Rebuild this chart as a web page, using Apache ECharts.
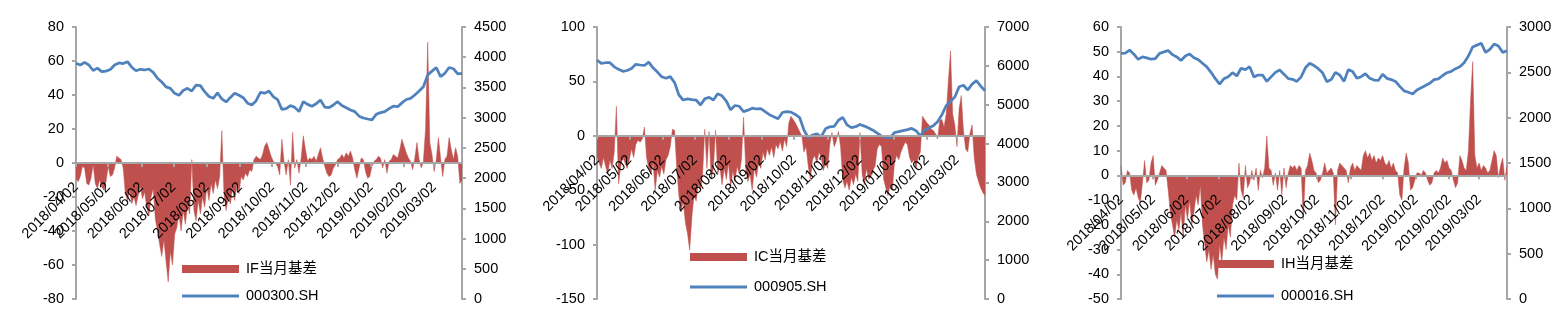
<!DOCTYPE html>
<html><head><meta charset="utf-8">
<script src="https://cdn.jsdelivr.net/npm/echarts@6/dist/echarts.min.js"></script>
<style>html,body{margin:0;padding:0;background:#fff}#c{width:1557px;height:321px}</style>
</head><body><div id="c"></div>
<script>
// ---- data (calendar days from 2018/04/02; basis sampled every 2 days, index every 4 days) ----
const startYear = 2018, startMonth = 4, startDay = 2;
const dayCount = 361;
const basisStep = 2;
const indexStep = 4;

const ifBasis = [
 -9,-11,-8,-2,-3,-12,-13,-9,-1,-12,
 -15,-10,-14,-16,-11,-2,-8,-7,-3,4,
 3,2,-3,-18,-22,-16,-24,-20,-25,-19,
 -14,-21,-17,-26,-31,-20,-15,-33,-40,-48,
 -55,-45,-58,-70,-52,-60,-42,-38,-30,-40,
 -28,-36,-25,-30,2,-28,-34,-22,-30,-20,
 -26,-14,-22,-12,-18,-10,-15,-8,19,-18,
 -28,-20,-24,-15,-22,-12,-18,-8,-10,-6,
 -8,-4,-5,2,4,3,2,5,10,12,
 8,4,1,0,-2,-7,14,1,-7,2,
 -13,18,-3,2,-6,3,16,8,1,3,
 2,4,1,5,9,3,-2,-6,-8,-7,
 -3,-1,2,3,5,3,6,4,7,3,
 -4,-9,-3,3,2,-5,-9,-8,-2,1,
 2,4,3,-3,2,-6,1,2,5,4,
 3,8,14,10,6,3,1,-4,3,12,
 2,-3,1,20,71,12,5,-5,2,15,
 3,-8,2,4,15,8,2,9,4,-12,
 -10
];
const ifIndex = [
 3899,3871,3915,3871,3780,3820,3761,3770,3798,3871,
 3905,3895,3927,3835,3775,3800,3789,3805,3750,3651,
 3590,3510,3485,3403,3370,3450,3485,3440,3540,3530,
 3430,3350,3320,3410,3310,3260,3335,3403,3370,3330,
 3240,3210,3280,3420,3405,3440,3348,3300,3138,3150,
 3200,3170,3100,3265,3220,3190,3230,3292,3175,3165,
 3210,3265,3200,3165,3127,3100,3025,2995,2978,2965,
 3055,3083,3100,3150,3190,3182,3245,3300,3320,3375,
 3440,3510,3706,3770,3830,3680,3734,3830,3810,3723,
 3734
];
const icBasis = [
 -18,-25,-30,-20,-28,-35,-22,-30,-15,27,
 -44,-28,-20,-25,-30,-22,-12,-20,-8,-4,
 -6,-3,8,-20,-30,-35,-25,-50,-32,-38,
 -28,-35,-22,-18,-10,6,5,-30,-55,-70,
 -60,-80,-90,-105,-75,-55,-60,-45,-50,-35,
 6,-30,4,-40,-30,5,-35,-28,-45,-30,
 -40,-25,-48,-32,-42,-28,-35,-22,17,-30,
 -42,-35,-50,-30,-38,-25,-30,-15,-22,-12,
 -18,-10,-20,-8,-12,-5,-14,-3,-10,12,
 18,15,12,8,4,0,-15,-10,-28,-40,
 -22,-18,-25,-15,-20,-32,-25,-30,-8,3,
 -10,-5,4,-10,-40,-48,-42,-50,-38,-45,
 -35,-42,3,-35,-45,-30,-40,-38,-32,-28,
 -12,-8,-10,-40,-48,-55,-45,-50,-25,-18,
 -22,-15,-10,-6,-8,-20,-25,-22,-30,-20,
 -15,18,15,12,10,6,5,2,-3,14,
 15,8,20,50,78,20,10,-10,25,37,
 5,-12,-15,2,10,-20,-35,-42,-48,-52,
 -55
];
const icIndex = [
 6151,6065,6080,6080,5975,5910,5860,5880,5930,6040,
 6022,6010,6095,5950,5840,5720,5680,5722,5570,5250,
 5121,5150,5130,5121,4993,5150,5190,5121,5280,5230,
 5090,4870,4980,4960,4821,4860,4910,4890,4900,4820,
 4745,4690,4640,4800,4821,4810,4750,4670,4349,4150,
 4221,4250,4170,4380,4430,4440,4600,4675,4480,4410,
 4435,4490,4450,4400,4345,4270,4190,4161,4150,4280,
 4306,4335,4360,4390,4332,4200,4349,4400,4460,4564,
 4740,4980,5078,5200,5464,5500,5378,5530,5620,5480,
 5360
];
const ihBasis = [
 4,-4,-3,2,1,-6,-8,-5,-9,-11,
 -3,6,-3,-2,5,8,-4,-2,1,4,
 3,2,-6,-15,-20,-25,-18,-22,-15,-25,
 -12,-18,-10,-20,-15,-8,-12,-4,-20,-28,
 -35,-30,-38,-32,-40,-42,-28,-35,-25,-30,
 -20,-25,-12,-8,-10,5,-6,-9,4,-5,
 -3,2,-2,3,-6,2,-1,3,16,3,
 2,-4,1,-6,2,-8,3,-5,1,4,
 3,4,2,4,3,-18,2,4,9,6,
 2,1,-3,-2,1,5,1,2,3,1,
 -20,2,5,4,3,2,-3,3,5,2,
 4,3,2,8,10,7,9,6,8,5,
 7,6,8,5,4,6,3,5,2,1,
 -8,-10,3,9,5,-6,-5,-2,1,1,
 0,2,1,-2,-4,-3,1,2,1,3,
 7,5,6,3,2,-2,-5,-3,8,6,
 3,2,10,30,46,8,3,5,2,4,
 3,1,2,6,10,8,-1,4,7,-2,
 4
];
const ihIndex = [
 2709,2712,2746,2700,2643,2670,2660,2645,2650,2709,
 2725,2740,2695,2670,2630,2680,2702,2660,2640,2600,
 2560,2500,2430,2371,2430,2452,2496,2460,2545,2530,
 2562,2450,2470,2470,2400,2450,2500,2526,2480,2430,
 2423,2400,2450,2550,2600,2575,2540,2495,2397,2420,
 2500,2470,2400,2530,2510,2434,2452,2485,2434,2415,
 2410,2480,2434,2420,2400,2345,2295,2280,2262,2305,
 2330,2355,2379,2420,2428,2465,2496,2510,2540,2562,
 2605,2680,2780,2800,2820,2720,2753,2812,2790,2720,
 2739
];
const basisNames = ['IF当月基差', 'IC当月基差', 'IH当月基差'];
const indexNames = ['000300.SH', '000905.SH', '000016.SH'];
const leftRanges  = [[-80, 80, 20], [-150, 100, 50], [-50, 60, 10]];
const rightRanges = [[0, 4500, 500], [0, 7000, 1000], [0, 3000, 500]];

// ---- categories: every calendar day ----
const categories = [];
const t0 = Date.UTC(startYear, startMonth - 1, startDay);
for (let i = 0; i < dayCount; i++) {
  const d = new Date(t0 + i * 86400000);
  categories.push(d.getUTCFullYear() + '/' + String(d.getUTCMonth() + 1).padStart(2, '0') + '/' + String(d.getUTCDate()).padStart(2, '0'));
}
const monthTick = (idx, val) => /\/02$/.test(val);

// ---- layout / style ----
const FONT = "'Liberation Sans', 'Noto Sans CJK SC', sans-serif";
const AXIS_GRAY = '#a6a6a6';
const RED = '#C0504D', BLUE = '#4F81BD';
const grids = [
  {left: 76, top: 27, width: 386, height: 272},
  {left: 597, top: 27, width: 388, height: 272},
  {left: 1121, top: 27, width: 386, height: 272}
].map(g => Object.assign(g, {containLabel: false, outerBoundsMode: 'none'}));
const legendPos = [
  {left: 182, top1: 261, top2: 288},
  {left: 690, top1: 249, top2: 279},
  {left: 1217, top1: 256, top2: 288}
];
const basisSets = [ifBasis, icBasis, ihBasis];
const indexSets = [ifIndex, icIndex, ihIndex];

const xAxes = [], yAxes = [], series = [], legends = [];
function yAxis(gi, pos, r) {
  return {
    type: 'value', gridIndex: gi, position: pos, min: r[0], max: r[1], interval: r[2],
    splitLine: {show: false},
    axisLine: {show: true, onZero: false, lineStyle: {color: AXIS_GRAY, width: 2}},
    axisTick: {show: true, length: 4, lineStyle: {color: AXIS_GRAY, width: 2}},
    axisLabel: {color: '#000', fontSize: 14.5, fontFamily: FONT, margin: 12, formatter: v => String(v)}
  };
}
for (let gi = 0; gi < 3; gi++) {
  const lr = leftRanges[gi];
  // x axis crosses the left value axis at 0: shift it up from the grid bottom by the zero's pixel position
  const zeroOffset = -grids[gi].height * (0 - lr[0]) / (lr[1] - lr[0]);
  xAxes.push({
    type: 'category', gridIndex: gi, data: categories, boundaryGap: false,
    position: 'bottom', offset: zeroOffset, z: 5,
    axisLine: {show: true, onZero: false, lineStyle: {color: AXIS_GRAY, width: 2}},
    axisTick: {show: true, interval: monthTick, length: 4, lineStyle: {color: AXIS_GRAY, width: 2}},
    axisLabel: {interval: monthTick, rotate: 45, color: '#000', fontSize: 14.5, fontFamily: FONT,
      margin: 22, align: 'right', verticalAlign: 'middle'},
    splitLine: {show: false}
  });
  yAxes.push(yAxis(gi, 'left', leftRanges[gi]));
  yAxes.push(yAxis(gi, 'right', rightRanges[gi]));
  series.push({
    type: 'line', name: basisNames[gi], xAxisIndex: gi, yAxisIndex: gi * 2,
    data: basisSets[gi].map((v, i) => [i * basisStep, v]),
    symbol: 'none', color: RED, itemStyle: {color: RED},
    lineStyle: {width: 0.5, color: RED}, areaStyle: {color: RED, opacity: 1}, z: 2
  });
  series.push({
    type: 'line', name: indexNames[gi], xAxisIndex: gi, yAxisIndex: gi * 2 + 1,
    data: indexSets[gi].map((v, i) => [i * indexStep, v]),
    symbol: 'none', showSymbol: false, color: BLUE, itemStyle: {color: BLUE},
    lineStyle: {width: 2.75, color: BLUE}, z: 3
  });
  const ts = {fontSize: 14.5, fontFamily: FONT, color: '#000', lineHeight: 16, padding: [0, 0, 0, 2]};
  legends.push({data: [{name: basisNames[gi], icon: 'rect'}], left: legendPos[gi].left, top: legendPos[gi].top1,
    padding: 0, itemWidth: 57, itemHeight: 8, itemGap: 0, selectedMode: false, textStyle: ts});
  legends.push({data: [{name: indexNames[gi], icon: 'path://M0,0H57V3H0Z'}], left: legendPos[gi].left, top: legendPos[gi].top2,
    padding: 0, itemWidth: 57, itemHeight: 3, itemGap: 0, selectedMode: false, textStyle: ts,
    itemStyle: {color: BLUE}});
}

const chart = echarts.init(document.getElementById('c'), null, {renderer: 'canvas'});
chart.setOption({
  animation: false,
  backgroundColor: '#fff',
  grid: grids,
  xAxis: xAxes,
  yAxis: yAxes,
  legend: legends,
  series: series
});
</script></body></html>
